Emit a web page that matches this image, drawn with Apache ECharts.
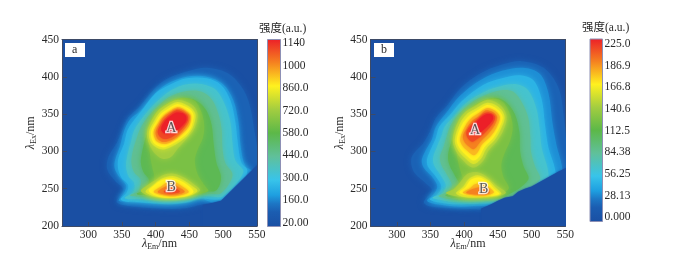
<!DOCTYPE html>
<html><head><meta charset="utf-8">
<script src="https://cdn.jsdelivr.net/npm/echarts@6/dist/echarts.min.js"></script>
<style>html,body{margin:0;background:#fff}#c{width:700px;height:256px}</style></head>
<body><div id="c"></div>
<script>
// Contour outlines: [emission nm, excitation nm]; names carry the intensity level.
const a120=[[342,233],[352,249],[340,260],[328,276],[330,293],[342,311],[350,327],[359,345],[377,361],[397,383],[416,397],[446,407],[476,412],[510,403],[535,374],[547,325],[552,282],[540,240],[501,225],[476,230],[446,224],[416,223],[377,225],[352,228]];
const a190=[[345,234],[354,246],[356,255],[345,267],[339,278],[340,289],[347,307],[353,327],[362,343],[377,354],[397,376],[416,390],[446,400],[476,400],[500,390],[515,369],[523,338],[526,307],[533,280],[545,272],[540,238],[500,228],[476,234],[466,236],[446,231],[416,229],[377,231],[352,233]];
const a260=[[348,236],[357,245],[359,255],[349,265],[344,278],[345,292],[353,310],[358,328],[368,342],[382,358],[400,378],[420,389],[446,398],[476,398],[497,389],[511,368],[518,340],[522,310],[527,285],[536,274],[520,240],[500,236],[480,236],[465,237],[446,232],[416,230],[377,232],[355,233]];
const a350=[[354,238],[367,246],[368,258],[360,266],[356,280],[358,295],[363,312],[368,328],[378,342],[392,358],[408,372],[425,383],[446,390],[470,390],[490,382],[503,362],[511,338],[514,310],[518,288],[530,272],[500,240],[480,240],[465,241],[446,236],[416,233],[380,236],[360,236]];
const a450=[[362,241],[375,248],[378,262],[368,272],[364,285],[366,300],[372,318],[378,332],[390,348],[405,362],[420,373],[446,381],[468,380],[483,370],[493,350],[498,328],[499,305],[503,285],[514,268],[497,244],[478,243],[446,240],[416,237],[385,239]];
const a560=[[372,243],[385,250],[390,262],[382,272],[378,285],[380,300],[385,318],[392,335],[402,350],[418,362],[440,370],[460,368],[475,355],[483,335],[486,310],[490,285],[497,265],[490,248],[470,246],[446,243],[416,241],[390,241]];
const a640=[[385,246],[395,254],[398,265],[395,278],[392,292],[390,308],[388,325],[392,340],[402,354],[420,366],[440,372],[458,368],[468,352],[472,335],[470,318],[462,302],[458,288],[462,270],[472,255],[478,247],[450,241],[416,240],[395,241]];
const a720A=[[387,326],[390,311],[398,298],[410,290],[422,292],[432,303],[447,318],[456,328],[461,340],[462,351],[456,361],[444,367],[431,369],[418,364],[405,356],[395,343]];
const a720B=[[378,247],[388,255],[400,262],[413,269],[427,270],[442,265],[455,257],[466,248],[452,241],[420,238],[392,240]];
const a800A=[[390,326],[393,312],[404,304],[414,303],[431,310],[446,320],[454,330],[458,340],[459,350],[453,358],[442,364],[431,366],[419,361],[407,353],[398,341]];
const a800B=[[385,246],[395,254],[408,263],[425,267],[440,262],[452,255],[462,247],[447,240],[420,238],[398,240]];
const a860A=[[393,326],[396,313],[405,307],[414,306],[430,313],[444,322],[452,331],[455,340],[456,349],[451,356],[441,361],[431,363],[420,358],[409,351],[400,339]];
const a860B=[[390,247],[397,254],[410,262],[425,264],[440,259],[451,252],[456,246],[447,241],[425,238],[403,240]];
const a930A=[[397,326],[400,315],[407,311],[415,310],[429,316],[441,325],[449,333],[452,341],[452,348],[447,353],[439,358],[431,359],[421,354],[411,347],[403,337]];
const a930B=[[397,246],[408,253],[418,259],[428,259],[438,254],[449,246],[440,242],[425,240],[408,242]];
const a1000A=[[400,326],[402,318],[409,313],[416,313],[429,318],[440,327],[447,335],[450,342],[450,348],[445,352],[438,356],[431,357],[421,352],[411,345],[405,336]];
const a1000B=[[403,246],[415,253],[425,255],[436,251],[443,246],[435,243],[420,242],[410,243]];
const a1080A=[[403,327],[405,321],[411,317],[418,317],[429,322],[439,330],[445,337],[448,343],[447,348],[443,351],[437,354],[431,355],[422,350],[413,343],[407,335]];
const a1080B=[[412,246],[420,250],[430,250],[436,246],[428,244],[418,244]];
const a1140A=[[408,330],[413,324],[422,324],[431,328],[439,334],[445,341],[445,347],[440,351],[431,352],[423,348],[414,341]];
const aCutoff=[[470,228],[485,231],[497,234],[552,283],[552,199],[470,199]];

const b20=[[340,232],[352,248],[342,258],[325,273],[322,292],[340,312],[350,328],[358,345],[375,362],[395,385],[425,405],[455,416],[485,421],[518,412],[540,385],[548,345],[552,305],[553,270],[551,210],[500,210],[460,222],[420,222],[380,224],[350,226]];
const b34=[[345,234],[355,243],[360,253],[354,264],[340,278],[337,288],[342,300],[352,316],[358,333],[373,351],[393,374],[425,396],[456,408],[487,412],[512,404],[525,378],[531,338],[537,308],[545,280],[545,240],[470,225],[430,227],[390,226],[360,229]];
const b48=[[349,236],[361,243],[366,253],[358,266],[346,280],[345,290],[350,302],[358,318],[363,333],[378,348],[397,368],[428,389],[456,398],[483,402],[503,395],[515,370],[520,335],[525,305],[535,275],[535,240],[470,230],[430,230],[390,229],[360,232]];
const b66=[[353,238],[367,244],[373,254],[365,268],[355,282],[354,292],[359,305],[366,320],[371,333],[385,347],[403,365],[430,380],[456,388],[478,390],[495,382],[507,358],[512,330],[515,305],[525,270],[520,240],[460,233],[430,233],[390,232],[365,235]];
const b86=[[362,240],[375,246],[382,254],[375,268],[366,282],[364,293],[369,305],[374,320],[380,335],[392,350],[410,365],[430,375],[455,382],[473,380],[486,365],[495,345],[498,320],[499,300],[505,280],[512,262],[470,238],[430,236],[390,235]];
const b108=[[372,241],[385,247],[393,255],[386,268],[378,282],[376,295],[380,310],[385,325],[392,340],[405,353],[420,365],[445,372],[462,366],[475,350],[482,325],[483,300],[488,280],[495,262],[460,240],[430,238],[395,237]];
const b125=[[384,245],[393,252],[398,262],[394,275],[390,290],[388,305],[385,322],[390,338],[402,352],[420,364],[443,371],[458,366],[468,350],[472,332],[468,314],[460,298],[455,282],[458,266],[466,250],[445,241],[415,239],[395,240]];
const b141A=[[383,317],[387,302],[397,289],[413,278],[427,286],[436,301],[448,313],[458,328],[463,345],[458,358],[447,366],[433,369],[416,361],[403,354],[391,340]];
const b141B=[[373,244],[385,250],[395,260],[405,270],[420,272],[435,265],[447,255],[462,245],[450,240],[420,238],[395,239]];
const b157A=[[386,316],[390,303],[400,292],[414,283],[425,290],[433,304],[445,315],[454,329],[460,345],[455,356],[445,363],[433,365],[418,358],[405,351],[394,338]];
const b157B=[[388,244],[398,252],[407,263],[420,268],[435,262],[446,252],[455,243],[430,239],[400,239]];
const b169A=[[389,316],[393,305],[402,296],[414,288],[423,294],[430,306],[442,317],[451,330],[457,345],[452,354],[443,360],[433,362],[420,355],[408,348],[397,336]];
const b169B=[[393,245],[402,252],[410,262],[422,265],[435,259],[444,250],[452,243],[430,240],[405,241]];
const b183A=[[394,316],[398,307],[406,300],[414,295],[420,299],[426,309],[439,320],[448,332],[453,345],[449,352],[441,357],[433,358],[421,351],[410,344],[401,333]];
const b183B=[[398,245],[408,250],[416,256],[428,257],[438,251],[444,245],[430,241],[408,242]];
const b197A=[[398,320],[401,312],[408,306],[414,303],[419,307],[425,314],[436,324],[445,335],[449,345],[446,350],[439,354],[432,355],[422,347],[412,341],[404,331]];
const b197B=[[403,245],[414,250],[425,252],[436,249],[438,244],[425,242],[410,243]];
const b213A=[[403,324],[406,317],[412,313],[418,316],[426,321],[436,330],[443,338],[446,346],[442,350],[436,352],[430,351],[421,344],[412,337],[406,331]];
const b225A=[[409,328],[414,323],[421,324],[430,330],[438,337],[443,344],[441,349],[434,350],[426,346],[417,338]];
const bCutoff=[[425,223],[440,229],[450,234],[460,238],[472,240],[480,246],[490,250],[500,253],[510,258],[520,263],[530,268],[540,273],[552,278],[552,199],[425,199]];

const contoursA=[[120,a120],[190,a190],[260,a260],[350,a350],[450,a450],[560,a560],[640,a640],[720,a720A],[720,a720B],[800,a800A],[800,a800B],[860,a860A],[860,a860B],[930,a930A],[930,a930B],[1000,a1000A],[1000,a1000B],[1080,a1080A],[1080,a1080B],[1140,a1140A]];
const contoursB=[[20,b20],[34,b34],[48,b48],[66,b66],[86,b86],[108,b108],[125,b125],[141,b141A],[141,b141B],[157,b157A],[157,b157B],[169,b169A],[169,b169B],[183,b183A],[183,b183B],[197,b197A],[197,b197B],[213,b213A],[225,b225A]];

const xTicks=[300,350,400,450,500,550];
const yTicks=[200,250,300,350,400,450];
const barLabelsA=['20.00','160.0','300.0','440.0','580.0','720.0','860.0','1000','1140'];
const barLabelsB=['0.000','28.13','56.25','84.38','112.5','140.6','166.8','186.9','225.0'];
const peakLabelsA=[[423,331,'A'],[423,252,'B']];
const peakLabelsB=[[416,328,'A'],[429,249,'B']];

const colorStops=[[0,'#1a4fa3'],[0.08,'#1b5db1'],[0.125,'#1d77c5'],[0.17,'#1e9fe0'],[0.25,'#38c4ea'],[0.375,'#60c09a'],[0.5,'#5cb848'],[0.625,'#a3cd40'],[0.75,'#fff11f'],[0.875,'#f58120'],[1,'#ec1f28']];
function colorAt(f){
  for(let i=1;i<colorStops.length;i++){
    if(f<=colorStops[i][0]){
      const p=colorStops[i-1],q=colorStops[i];
      return echarts.color.lerp((f-p[0])/(q[0]-p[0]),[p[1],q[1]]);
    }
  }
  return colorStops[colorStops.length-1][1];
}
const SERIF='"Liberation Serif","Noto Sans CJK SC",serif';
const INK='#2a2a2a', FRAME='#3d4a66', BG=colorStops[0][1];
const chart=echarts.init(document.getElementById('c'));

function contourSeries(list,cut,lo,hi,ax){
  const rows=list.map(c=>{const f=(c[0]-lo)/(hi-lo);return {fill:colorAt(f),pts:c[1],smooth:0.33,blur:f>0.7?3:6};});
  rows.push({fill:BG,pts:cut,smooth:0,blur:2});
  return {type:'custom',xAxisIndex:ax,yAxisIndex:ax,clip:true,silent:true,
    data:rows.map((r,i)=>[i]),
    encode:{x:-1,y:-1},
    renderItem(params,api){
      const r=rows[params.dataIndex];
      return {type:'polygon',
        shape:{points:r.pts.map(p=>api.coord(p)),smooth:r.smooth},
        style:{fill:r.fill,shadowBlur:r.blur,shadowColor:r.fill}};
    }};
}
function peakSeries(list,ax){
  return {type:'scatter',xAxisIndex:ax,yAxisIndex:ax,symbolSize:0,silent:true,z:5,data:list.map(p=>[p[0],p[1],p[2]]),
    label:{show:true,position:'inside',formatter:o=>o.value[2],fontFamily:SERIF,fontSize:14,color:'#333',textBorderColor:'#fff',textBorderWidth:2.5}};
}
function barSeries(ax){
  const stops=colorStops.map(s=>({offset:1-s[0],color:s[1]})).reverse();
  return {type:'custom',xAxisIndex:ax,yAxisIndex:ax,clip:false,silent:true,data:[[0]],encode:{x:-1,y:-1},
    renderItem(params){
      const cs=params.coordSys;
      return {type:'rect',shape:{x:cs.x,y:cs.y,width:cs.width,height:cs.height},
        style:{fill:new echarts.graphic.LinearGradient(0,0,0,1,stops),stroke:'#8d90b5',lineWidth:1}};
    }};
}
const rich={i:{fontFamily:SERIF,fontStyle:'italic',fontSize:12,color:INK},
  s:{fontFamily:SERIF,fontSize:8,color:INK,verticalAlign:'bottom',padding:[6,0,0,0]},
  n:{fontFamily:SERIF,fontSize:12,color:INK}};
function mainX(){return {type:'value',min:261,max:550.3,splitLine:{show:false},
  axisLine:{onZero:false,lineStyle:{color:FRAME,width:1}},
  axisTick:{inside:true,length:4,lineStyle:{color:FRAME},customValues:xTicks},
  axisLabel:{customValues:xTicks,fontFamily:SERIF,fontSize:11.5,color:INK,margin:3,showMinLabel:true,showMaxLabel:true},
  name:'{i|λ}{s|Em}{n|/nm}',nameLocation:'middle',nameGap:11,nameMoveOverlap:false,nameTextStyle:{rich}};}
function mainY(){return {type:'value',min:200,max:450,splitLine:{show:false},
  axisLine:{onZero:false,lineStyle:{color:FRAME,width:1}},
  axisTick:{inside:true,length:5,lineStyle:{color:FRAME},customValues:yTicks},
  axisLabel:{customValues:yTicks,fontFamily:SERIF,fontSize:11.5,color:INK,margin:3,showMinLabel:true,showMaxLabel:true},
  name:'{i|λ}{s|Ex}{n|/nm}',nameLocation:'middle',nameGap:24,nameMoveOverlap:false,nameTextStyle:{rich}};}
function frameX(g){return {gridIndex:g,type:'value',min:261,max:550.3,position:'top',axisLine:{onZero:false,lineStyle:{color:FRAME}},axisTick:{show:false},axisLabel:{show:false},splitLine:{show:false}};}
function frameY(g){return {gridIndex:g,type:'value',min:200,max:450,position:'right',axisLine:{onZero:false,lineStyle:{color:FRAME}},axisTick:{show:false},axisLabel:{show:false},splitLine:{show:false}};}
function barX(g){return {gridIndex:g,type:'value',min:0,max:1,show:false};}
function barY(g,labels,lo,hi){const idx=labels.map((l,i)=>i);return {gridIndex:g,type:'value',min:lo,max:hi,position:'right',
  splitLine:{show:false},axisLine:{show:false},
  axisTick:{length:3,lineStyle:{color:'#444'},customValues:idx},
  axisLabel:{customValues:idx,formatter:v=>labels[Math.round(v)],fontFamily:SERIF,fontSize:11.5,color:INK,margin:2,showMinLabel:true,showMaxLabel:true}};}

chart.setOption({
  animation:false,backgroundColor:'#fff',
  grid:[
    {left:62,top:39.5,width:195,height:186.5,show:true,backgroundColor:BG,borderWidth:0,outerBoundsMode:'none'},
    {left:370.5,top:39.5,width:195,height:186.5,show:true,backgroundColor:BG,borderWidth:0,outerBoundsMode:'none'},
    {left:267.5,top:39.5,width:13,height:187,outerBoundsMode:'none'},
    {left:590,top:39,width:12.5,height:182.5,outerBoundsMode:'none'}
  ],
  xAxis:[Object.assign(mainX(),{gridIndex:0}),frameX(0),Object.assign(mainX(),{gridIndex:1}),frameX(1),barX(2),barX(3)],
  yAxis:[Object.assign(mainY(),{gridIndex:0}),frameY(0),Object.assign(mainY(),{gridIndex:1}),frameY(1),barY(2,barLabelsA,-0.17,8.17),barY(3,barLabelsB,-0.2,8.23)],
  series:[
    contourSeries(contoursA,aCutoff,20,1140,0),
    contourSeries(contoursB,bCutoff,0,225,2),
    peakSeries(peakLabelsA,0),
    peakSeries(peakLabelsB,2),
    barSeries(4),
    barSeries(5)
  ],
  graphic:[
    {type:'rect',left:65,top:43,z:50,shape:{width:20,height:14},style:{fill:'#fff'}},
    {type:'text',left:72,top:44,z:51,style:{text:'a',font:'12px '+SERIF,fill:INK}},
    {type:'rect',left:374,top:43,z:50,shape:{width:20,height:14},style:{fill:'#fff'}},
    {type:'text',left:381,top:44,z:51,style:{text:'b',font:'12px '+SERIF,fill:INK}},
    {type:'text',left:259,top:23,z:51,style:{text:'强度(a.u.)',font:'11.5px '+SERIF,fill:INK}},
    {type:'text',left:582,top:22,z:51,style:{text:'强度(a.u.)',font:'11.5px '+SERIF,fill:INK}}
  ]
});
</script></body></html>
